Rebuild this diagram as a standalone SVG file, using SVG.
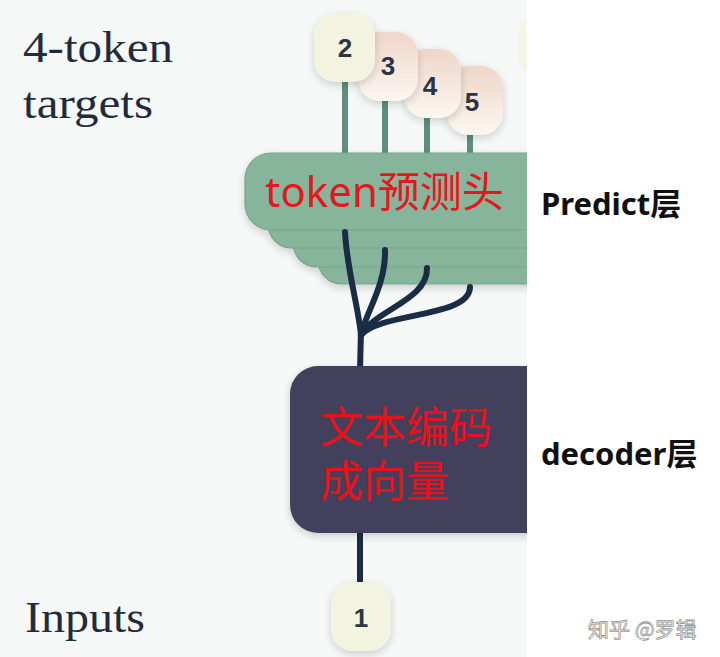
<svg xmlns="http://www.w3.org/2000/svg" width="720" height="657" viewBox="0 0 720 657">
<defs>
<style>
.serif{font-family:"Liberation Serif","Times New Roman",serif;font-size:44px;fill:#1e2c3c}
.num{font-family:"Liberation Sans",Arial,sans-serif;font-size:26px;font-weight:bold;fill:#2c3542;text-anchor:middle}
.red{font-family:"Noto Sans","Noto Sans CJK SC",sans-serif;fill:#e8121a}
.side{font-family:"Noto Sans","Noto Sans CJK SC",sans-serif;font-size:31px;font-weight:bold;fill:#111}
.stem{stroke:#5f8f7a;stroke-width:6;fill:none}
.navy{stroke:#1b2c45;stroke-width:6;fill:none;stroke-linecap:round}
.head{fill:#87b59b;stroke:#76a58b;stroke-width:1.2}
.cream{fill:#f3f4e0}
.peach{fill:url(#pg)}
</style>
<linearGradient id="pg" x1="0" y1="0" x2="0" y2="1">
<stop offset="0" stop-color="#efd6c8"/>
<stop offset="1" stop-color="#fbf7f1"/>
</linearGradient>
<clipPath id="panel"><rect x="0" y="0" width="527" height="657"/></clipPath>
<filter id="sh" x="-20%" y="-20%" width="140%" height="150%">
<feGaussianBlur in="SourceAlpha" stdDeviation="4"/>
<feOffset dy="3"/>
<feComponentTransfer><feFuncA type="linear" slope="0.18"/></feComponentTransfer>
<feMerge><feMergeNode/><feMergeNode in="SourceGraphic"/></feMerge>
</filter>
</defs>
<rect x="0" y="0" width="720" height="657" fill="#ffffff"/>
<rect x="0" y="0" width="527" height="657" fill="#f6f7f7"/>

<g id="labels">
<text class="serif" x="23" y="62" textLength="150" lengthAdjust="spacingAndGlyphs">4-token</text>
<text class="serif" x="23" y="118" textLength="130" lengthAdjust="spacingAndGlyphs">targets</text>
<text class="serif" x="25" y="632" textLength="120" lengthAdjust="spacingAndGlyphs">Inputs</text>
<text class="side" x="541" y="215">Predict层</text>
<text class="side" x="541" y="465">decoder层</text>
<text x="588" y="637" font-family="Noto Sans CJK SC,sans-serif" font-size="21" fill="#ffffff" stroke="#9a9a9a" stroke-width="0.8">知乎 @罗辑</text>
</g>

<g clip-path="url(#panel)">
<g id="connectors">
<line class="stem" x1="345" y1="80" x2="345" y2="156"/>
<line class="stem" x1="385" y1="98" x2="385" y2="156"/>
<line class="stem" x1="427" y1="115" x2="427" y2="156"/>
<line class="stem" x1="470" y1="133" x2="470" y2="156"/>
</g>

<g id="target-5"><rect class="peach" x="447" y="66" width="56" height="69" rx="22" filter="url(#sh)"/><text class="num" x="472" y="111">5</text></g>
<g id="target-4"><rect class="peach" x="404" y="49" width="57" height="69" rx="22" filter="url(#sh)"/><text class="num" x="430" y="95">4</text></g>
<g id="target-3"><rect class="peach" x="358" y="32" width="60" height="69" rx="22" filter="url(#sh)"/><text class="num" x="388" y="75">3</text></g>
<g id="target-2"><rect class="cream" x="314" y="13" width="61" height="69" rx="22" filter="url(#sh)"/><text class="num" x="345" y="57">2</text></g>
<g id="target-next"><rect class="cream" x="518" y="14" width="60" height="64" rx="22" opacity="0.7"/></g>

<g id="prediction-heads" filter="url(#sh)">
<rect class="head" x="318" y="210" width="260" height="74" rx="24"/>
<rect class="head" x="293" y="193" width="280" height="74" rx="24"/>
<rect class="head" x="268" y="174" width="300" height="74" rx="24"/>
<rect class="head" x="245" y="153" width="320" height="77" rx="26" stroke="none"/>
<text class="red" x="265" y="207" font-size="42">token预测头</text>
</g>

<g id="tree">
<path class="navy" d="M345,232 C347,270 358,305 361,335"/>
<path class="navy" d="M385,250 C386,285 366,312 361,335"/>
<path class="navy" d="M427,268 C428,300 375,310 361,335"/>
<path class="navy" d="M470,287 C470,318 380,312 361,335"/>
<line class="navy" x1="361" y1="330" x2="360" y2="370"/>
<line class="navy" x1="360" y1="530" x2="360" y2="584"/>
</g>

<g id="decoder">
<rect x="290" y="366" width="290" height="167" rx="28" fill="#423f5c" filter="url(#sh)"/>
<text class="red" x="320" y="443" font-size="43">文本编码</text>
<text class="red" x="320" y="497" font-size="43">成向量</text>
</g>
</g>

<g id="input-1"><rect class="cream" x="331" y="582" width="60" height="69" rx="22" filter="url(#sh)"/><text class="num" x="361" y="627">1</text></g>
</svg>
